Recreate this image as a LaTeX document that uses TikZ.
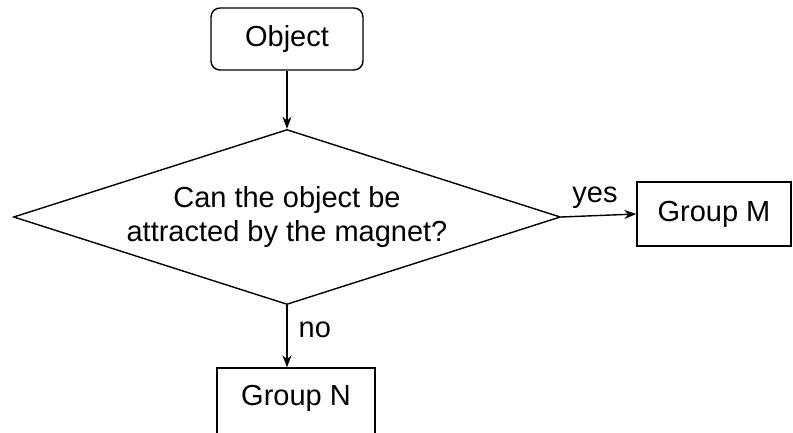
\documentclass[tikz,border=0pt]{standalone}
\usepackage{fontspec}
\setmainfont{Liberation Sans}
\usetikzlibrary{shapes.geometric,arrows.meta}
\begin{document}
\begin{tikzpicture}[x=1pt,y=-1pt,
  every node/.style={font=\fontsize{29}{34}\selectfont},
  boxed/.style={draw,line width=1.4pt,inner sep=0pt},
  conn/.style={line width=1.4pt,-{Stealth[length=12pt,width=9pt]}},
  lbl/.style={inner sep=6pt}]
\clip (0,0) rectangle (793,432);
\node[boxed,rounded corners=9pt,minimum width=152pt,minimum height=62pt] (obj) at (287,39) {Object};
\node[boxed,shape=diamond,aspect=3.13,minimum width=547pt,minimum height=175pt,align=center] (dec) at (287,217) {Can the object be\\attracted by the magnet?};
\node[boxed,minimum width=154pt,minimum height=64pt] (gm) at (714,214) {Group M};
\node[boxed,minimum width=158pt,text height=37pt,text depth=35pt] (gn) at (296,404) {Group N};
\draw[conn] (obj.south) -- (dec.north);
\draw[conn] (dec.east) -- node[pos=0.45,above,lbl] {yes} (gm.west);
\draw[conn] (dec.south) -- node[pos=0.4,right,inner sep=11pt] {no} (dec.south |- gn.north);
\end{tikzpicture}
\end{document}
